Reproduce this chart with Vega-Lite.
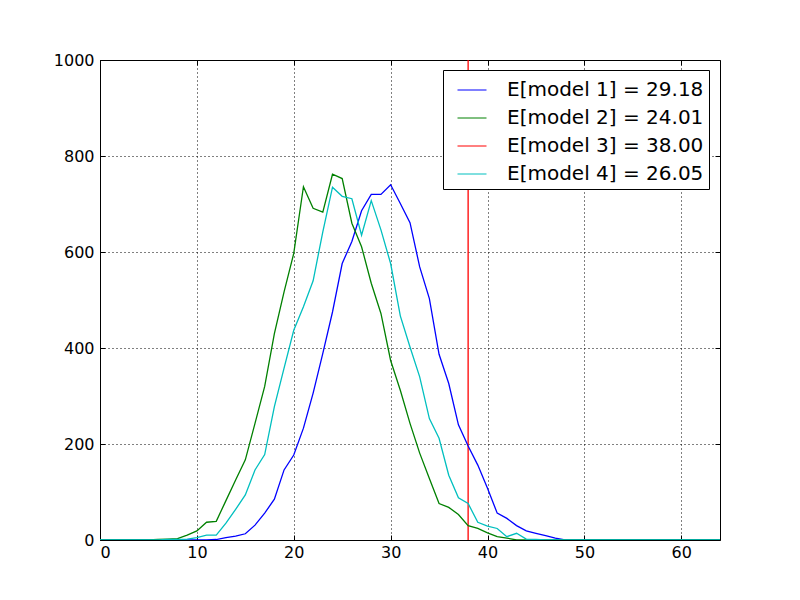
{
  "$schema": "https://vega.github.io/schema/vega-lite/v6.json",
  "width": 620,
  "height": 480,
  "autosize": "none",
  "padding": {"left": 100, "top": 60, "right": 80, "bottom": 60},
  "background": "white",
  "config": {
    "font": "DejaVu Sans",
    "view": {"stroke": "black", "strokeWidth": 1},
    "axis": {
      "domain": false,
      "gridColor": "black",
      "gridDash": [1, 3],
      "gridWidth": 1,
      "gridOpacity": 1,
      "tickColor": "black",
      "tickSize": -5,
      "tickWidth": 1,
      "labelColor": "black",
      "labelFontSize": 16,
      "labelFont": "DejaVu Sans",
      "title": null
    },
    "legend": {
      "title": null,
      "orient": "none",
      "legendX": 343,
      "legendY": 10,
      "direction": "vertical",
      "fillColor": "white",
      "strokeColor": "black",
      "strokeWidth": 1,
      "cornerRadius": 0,
      "padding": 5,
      "symbolOffset": 9,
      "symbolType": "stroke",
      "symbolSize": 841,
      "symbolStrokeWidth": 1,
      "labelFontSize": 20,
      "labelFont": "DejaVu Sans",
      "labelColor": "black",
      "labelOffset": 20,
      "rowPadding": 3,
      "labelLimit": 400
    }
  },
  "datasets": {
    "hist": [
      {"x": 0, "m1": 0, "m2": 0, "m4": 0},
      {"x": 1, "m1": 0, "m2": 0, "m4": 0},
      {"x": 2, "m1": 0, "m2": 0, "m4": 0},
      {"x": 3, "m1": 0, "m2": 0, "m4": 0},
      {"x": 4, "m1": 0, "m2": 0, "m4": 0},
      {"x": 5, "m1": 0, "m2": 0, "m4": 0},
      {"x": 6, "m1": 0, "m2": 1, "m4": 0},
      {"x": 7, "m1": 0, "m2": 2, "m4": 1},
      {"x": 8, "m1": 0, "m2": 3, "m4": 1},
      {"x": 9, "m1": 0, "m2": 10, "m4": 2},
      {"x": 10, "m1": 0, "m2": 19, "m4": 5},
      {"x": 11, "m1": 0, "m2": 37, "m4": 10},
      {"x": 12, "m1": 1, "m2": 39, "m4": 10},
      {"x": 13, "m1": 5, "m2": 82, "m4": 35},
      {"x": 14, "m1": 8, "m2": 125, "m4": 64},
      {"x": 15, "m1": 13, "m2": 167, "m4": 94},
      {"x": 16, "m1": 31, "m2": 243, "m4": 146},
      {"x": 17, "m1": 56, "m2": 320, "m4": 178},
      {"x": 18, "m1": 85, "m2": 430, "m4": 278},
      {"x": 19, "m1": 146, "m2": 517, "m4": 358},
      {"x": 20, "m1": 177, "m2": 597, "m4": 437},
      {"x": 21, "m1": 233, "m2": 736, "m4": 486},
      {"x": 22, "m1": 306, "m2": 691, "m4": 540},
      {"x": 23, "m1": 389, "m2": 683, "m4": 642},
      {"x": 24, "m1": 475, "m2": 762, "m4": 735},
      {"x": 25, "m1": 576, "m2": 753, "m4": 716},
      {"x": 26, "m1": 622, "m2": 660, "m4": 711},
      {"x": 27, "m1": 686, "m2": 611, "m4": 635},
      {"x": 28, "m1": 720, "m2": 535, "m4": 707},
      {"x": 29, "m1": 720, "m2": 472, "m4": 646},
      {"x": 30, "m1": 740, "m2": 374, "m4": 576},
      {"x": 31, "m1": 701, "m2": 312, "m4": 467},
      {"x": 32, "m1": 661, "m2": 243, "m4": 402},
      {"x": 33, "m1": 569, "m2": 181, "m4": 340},
      {"x": 34, "m1": 503, "m2": 128, "m4": 253},
      {"x": 35, "m1": 387, "m2": 76, "m4": 212},
      {"x": 36, "m1": 326, "m2": 68, "m4": 135},
      {"x": 37, "m1": 240, "m2": 53, "m4": 88},
      {"x": 38, "m1": 196, "m2": 30, "m4": 76},
      {"x": 39, "m1": 156, "m2": 24, "m4": 37},
      {"x": 40, "m1": 108, "m2": 15, "m4": 29},
      {"x": 41, "m1": 56, "m2": 7, "m4": 24},
      {"x": 42, "m1": 45, "m2": 4, "m4": 7},
      {"x": 43, "m1": 30, "m2": 0, "m4": 14},
      {"x": 44, "m1": 19, "m2": 0, "m4": 2},
      {"x": 45, "m1": 14, "m2": 0, "m4": 1},
      {"x": 46, "m1": 9, "m2": 0, "m4": 0},
      {"x": 47, "m1": 4, "m2": 0, "m4": 0},
      {"x": 48, "m1": 0, "m2": 0, "m4": 0},
      {"x": 49, "m1": 0, "m2": 0, "m4": 0},
      {"x": 50, "m1": 0, "m2": 0, "m4": 0},
      {"x": 51, "m1": 0, "m2": 0, "m4": 0},
      {"x": 52, "m1": 0, "m2": 0, "m4": 0},
      {"x": 53, "m1": 0, "m2": 0, "m4": 0},
      {"x": 54, "m1": 0, "m2": 0, "m4": 0},
      {"x": 55, "m1": 0, "m2": 0, "m4": 0},
      {"x": 56, "m1": 0, "m2": 0, "m4": 0},
      {"x": 57, "m1": 0, "m2": 0, "m4": 0},
      {"x": 58, "m1": 0, "m2": 0, "m4": 0},
      {"x": 59, "m1": 0, "m2": 0, "m4": 0},
      {"x": 60, "m1": 0, "m2": 0, "m4": 0},
      {"x": 61, "m1": 0, "m2": 0, "m4": 0},
      {"x": 62, "m1": 0, "m2": 0, "m4": 0},
      {"x": 63, "m1": 0, "m2": 0, "m4": 0},
      {"x": 64, "m1": 0, "m2": 0, "m4": 0}
    ],
    "model3": [
      {"x": 38, "count": 0, "model": "m3"},
      {"x": 38, "count": 1000, "model": "m3"}
    ]
  },
  "layer": [
    {
      "data": {"name": "model3"},
      "mark": {"type": "line", "strokeWidth": 1.3, "clip": true},
      "encoding": {
        "x": {"field": "x", "type": "quantitative",
              "scale": {"domain": [0, 64], "nice": false, "zero": false},
              "axis": {"orient": "top", "labels": false, "grid": false, "values": [0, 10, 20, 30, 40, 50, 60]}},
        "y": {"field": "count", "type": "quantitative",
              "scale": {"domain": [0, 1000], "nice": false},
              "axis": {"orient": "right", "labels": false, "grid": false, "values": [0, 200, 400, 600, 800, 1000]}},
        "color": {"field": "model", "type": "nominal",
                  "scale": {"domain": ["m1", "m2", "m3", "m4"], "range": ["#0000ff", "#008000", "#ff0000", "#00bfbf"]},
                  "legend": {
                    "labelExpr": "datum.value == 'm1' ? 'E[model 1] = 29.18' : datum.value == 'm2' ? 'E[model 2] = 24.01' : datum.value == 'm3' ? 'E[model 3] = 38.00' : 'E[model 4] = 26.05'"
                  }}
      }
    },
    {
      "data": {"name": "hist"},
      "transform": [
        {"fold": ["m1", "m2", "m4"], "as": ["model", "count"]}
      ],
      "mark": {"type": "line", "strokeWidth": 1.3, "clip": true},
      "encoding": {
        "x": {"field": "x", "type": "quantitative",
              "scale": {"domain": [0, 64], "nice": false, "zero": false},
              "axis": {"orient": "bottom", "grid": true, "values": [0, 10, 20, 30, 40, 50, 60], "labelPadding": 9}},
        "y": {"field": "count", "type": "quantitative",
              "scale": {"domain": [0, 1000], "nice": false},
              "axis": {"orient": "left", "grid": true, "format": "d", "values": [0, 200, 400, 600, 800, 1000], "labelPadding": 11}},
        "color": {"field": "model", "type": "nominal",
                  "scale": {"domain": ["m1", "m2", "m3", "m4"], "range": ["#0000ff", "#008000", "#ff0000", "#00bfbf"]},
                  "legend": {
                    "labelExpr": "datum.value == 'm1' ? 'E[model 1] = 29.18' : datum.value == 'm2' ? 'E[model 2] = 24.01' : datum.value == 'm3' ? 'E[model 3] = 38.00' : 'E[model 4] = 26.05'"
                  }},
        "order": {"field": "model"}
      }
    }
  ],
  "resolve": {"axis": {"x": "independent", "y": "independent"}}
}
